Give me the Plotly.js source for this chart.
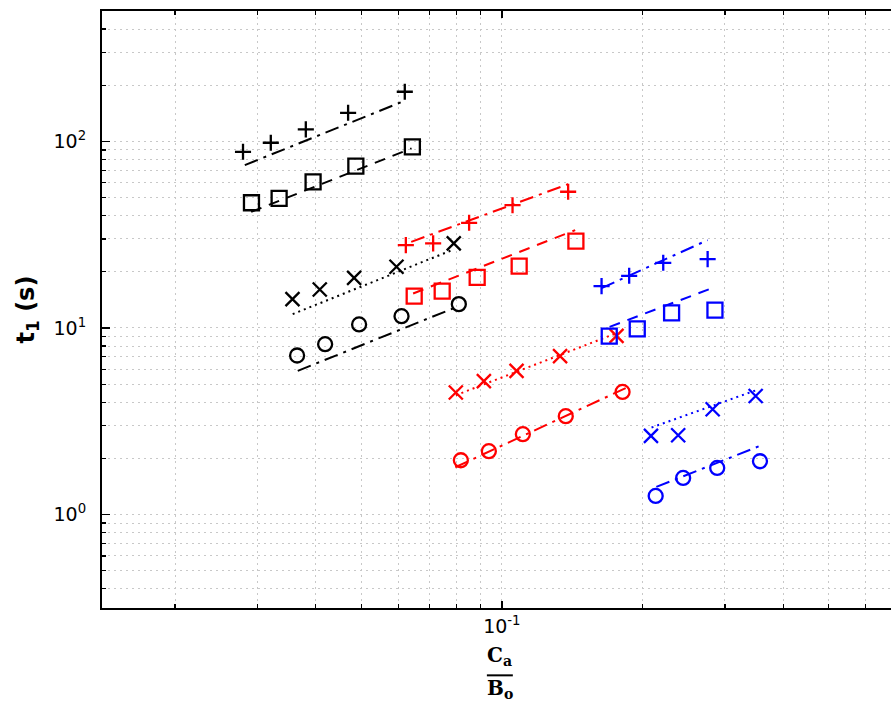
<!DOCTYPE html>
<html>
<head>
<meta charset="utf-8">
<script src="https://cdn.plot.ly/plotly-3.0.1.min.js"></script>
<style>html,body{margin:0;padding:0;overflow:hidden;background:#fff}</style>
</head>
<body>
<div id="chart" style="width:891px;height:701px"></div>
<script>
// ---- data ----
const xBlackPlus = [0.02795, 0.03205, 0.03808, 0.04690, 0.06200];
const yBlackPlus = [87.9, 98.3, 116.0, 142.3, 184.5];
const fitXBlackPlus = [0.0282, 0.0620];
const fitYBlackPlus = [74.6, 165.1];

const xBlackSquare = [0.02914, 0.03339, 0.03947, 0.04872, 0.06436];
const yBlackSquare = [46.9, 49.5, 60.7, 73.7, 93.5];
const fitXBlackSquare = [0.0291, 0.0641];
const fitYBlackSquare = [41.9, 91.7];

const xBlackX = [0.03566, 0.04079, 0.04831, 0.05952, 0.07891];
const yBlackX = [14.27, 16.08, 18.56, 21.27, 28.39];
const fitXBlackX = [0.0357, 0.0789];
const fitYBlackX = [11.86, 26.36];

const xBlackCircle = [0.03648, 0.04188, 0.04951, 0.06101, 0.08091];
const yBlackCircle = [7.12, 8.19, 10.44, 11.57, 13.42];
const fitXBlackCircle = [0.0366, 0.0809];
const fitYBlackCircle = [5.89, 13.09];

const xRedPlus = [0.06232, 0.07129, 0.08511, 0.1054, 0.1386];
const yRedPlus = [27.8, 28.39, 36.6, 45.5, 53.7];
const fitXRedPlus = [0.0640, 0.1386];
const fitYRedPlus = [28.95, 59.0];

const xRedSquare = [0.06494, 0.07454, 0.08856, 0.1089, 0.1440];
const yRedSquare = [14.81, 15.75, 18.66, 21.45, 29.2];
const fitXRedSquare = [0.0646, 0.1435];
const fitYRedSquare = [15.31, 33.45];

const xRedX = [0.07971, 0.09152, 0.1075, 0.1332, 0.1759];
const yRedX = [4.51, 5.19, 5.89, 7.06, 9.07];
const fitXRedX = [0.0797, 0.1760];
const fitYRedX = [4.36, 9.38];

const xRedCircle = [0.08172, 0.09380, 0.1109, 0.1370, 0.1812];
const yRedCircle = [1.955, 2.185, 2.696, 3.366, 4.54];
const fitXRedCircle = [0.0795, 0.1840];
const fitYRedCircle = [1.793, 4.76];

const xBluePlus = [0.1634, 0.1872, 0.2214, 0.2755];
const yBluePlus = [16.76, 19.03, 22.35, 23.38];
const fitXBluePlus = [0.1634, 0.2755];
const fitYBluePlus = [16.35, 29.57];

const xBlueSquare = [0.1697, 0.1948, 0.2307, 0.2856];
const yBlueSquare = [9.04, 9.89, 12.05, 12.46];
const fitXBlueSquare = [0.1700, 0.2840];
const fitYBlueSquare = [10.14, 16.49];

const xBlueX = [0.2084, 0.2383, 0.2824, 0.3490];
const yBlueX = [2.639, 2.662, 3.67, 4.32];
const fitXBlueX = [0.2090, 0.3500];
const fitYBlueX = [2.928, 4.64];

const xBlueCircle = [0.2133, 0.2442, 0.2888, 0.3565];
const yBlueCircle = [1.258, 1.571, 1.778, 1.931];
const fitXBlueCircle = [0.2140, 0.3550];
const fitYBlueCircle = [1.406, 2.324];

const xMajorTicks = [0.1];
const xMajorLabels = ['10<sup>-1</sup>'];
const xMinorTicks = [0.02, 0.03, 0.04, 0.05, 0.06, 0.07, 0.08, 0.09, 0.2, 0.3, 0.4, 0.5, 0.6];
const yMajorTicks = [1, 10, 100];
const yMajorLabels = ['10<sup>0</sup>', '10<sup>1</sup>', '10<sup>2</sup>'];
const yMinorTicks = [0.4, 0.5, 0.6, 0.7, 0.8, 0.9, 2, 3, 4, 5, 6, 7, 8, 9,
                     20, 30, 40, 50, 60, 70, 80, 90, 200, 300, 400];

// ---- styles ----
const DASHDOT = '14px,6px,3px,6px';
const DASH = '11px,8px';
const DOT = '2px,4px';

function markers(x, y, color, symbol, size) {
  return {x: x, y: y, type: 'scatter', mode: 'markers', showlegend: false,
    hoverinfo: 'skip',
    marker: {symbol: symbol, size: size, color: color,
             line: {color: color, width: 2.3}}};
}
function fit(x, y, color, dash) {
  return {x: x, y: y, type: 'scatter', mode: 'lines', showlegend: false,
    hoverinfo: 'skip', line: {color: color, width: 2, dash: dash}};
}
const K = '#000000', R = '#ff0000', B = '#0000ff';
const sPlus = 'cross-thin', sX = 'x-thin', sSq = 'square-open', sCi = 'circle-open';
const zPlus = 11.5, zX = 14, zSq = 15, zCi = 14;

const traces = [
  fit(fitXBlackPlus, fitYBlackPlus, K, DASHDOT),
  fit(fitXBlackSquare, fitYBlackSquare, K, DASH),
  fit(fitXBlackX, fitYBlackX, K, DOT),
  fit(fitXBlackCircle, fitYBlackCircle, K, DASHDOT),
  fit(fitXRedPlus, fitYRedPlus, R, DASHDOT),
  fit(fitXRedSquare, fitYRedSquare, R, DASH),
  fit(fitXRedX, fitYRedX, R, DOT),
  fit(fitXRedCircle, fitYRedCircle, R, DASHDOT),
  fit(fitXBluePlus, fitYBluePlus, B, DASHDOT),
  fit(fitXBlueSquare, fitYBlueSquare, B, DASH),
  fit(fitXBlueX, fitYBlueX, B, DOT),
  fit(fitXBlueCircle, fitYBlueCircle, B, DASHDOT),
  markers(xBlackPlus, yBlackPlus, K, sPlus, zPlus),
  markers(xBlackSquare, yBlackSquare, K, sSq, zSq),
  markers(xBlackX, yBlackX, K, sX, zX),
  markers(xBlackCircle, yBlackCircle, K, sCi, zCi),
  markers(xRedPlus, yRedPlus, R, sPlus, zPlus),
  markers(xRedSquare, yRedSquare, R, sSq, zSq),
  markers(xRedX, yRedX, R, sX, zX),
  markers(xRedCircle, yRedCircle, R, sCi, zCi),
  markers(xBluePlus, yBluePlus, B, sPlus, zPlus),
  markers(xBlueSquare, yBlueSquare, B, sSq, zSq),
  markers(xBlueX, yBlueX, B, sX, zX),
  markers(xBlueCircle, yBlueCircle, B, sCi, zCi)
];

const gridStyle = {gridcolor: '#c8c8c8', gridwidth: 1, griddash: DOT};

const layout = {
  width: 891, height: 701,
  margin: {l: 102, r: 0, t: 11, b: 93, pad: 0},
  paper_bgcolor: '#ffffff', plot_bgcolor: '#ffffff',
  font: {family: 'DejaVu Sans, sans-serif', color: '#000', size: 19},
  showlegend: false,
  xaxis: Object.assign({
    type: 'log', range: [-1.8552, -0.1677],
    tickmode: 'array', tickvals: xMajorTicks, ticktext: xMajorLabels,
    ticks: 'inside', ticklen: 7, tickwidth: 1.5, tickcolor: '#000',
    showline: true, linecolor: '#000', linewidth: 2, mirror: 'ticks',
    showgrid: true, zeroline: false,
    tickfont: {family: 'DejaVu Sans, sans-serif', size: 19, color: '#000'},
    minor: Object.assign({tickmode: 'array', tickvals: xMinorTicks, ticks: 'inside',
      ticklen: 4, tickwidth: 1.2, tickcolor: '#000', showgrid: true}, gridStyle)
  }, gridStyle),
  yaxis: Object.assign({
    type: 'log', range: [-0.5008, 2.6987],
    tickmode: 'array', tickvals: yMajorTicks, ticktext: yMajorLabels,
    ticks: 'inside', ticklen: 8, tickwidth: 1.5, tickcolor: '#000',
    showline: true, linecolor: '#000', linewidth: 2, mirror: false,
    showgrid: true, zeroline: false, ticklabelstandoff: 10,
    tickfont: {family: 'DejaVu Sans, sans-serif', size: 19, color: '#000'},
    title: {text: '<b>t<sub>1</sub> (s)</b>', standoff: 12,
            font: {family: 'DejaVu Sans, sans-serif', size: 24, color: '#000'}},
    minor: Object.assign({tickmode: 'array', tickvals: yMinorTicks, ticks: 'inside',
      ticklen: 4, tickwidth: 1.2, tickcolor: '#000', showgrid: true}, gridStyle)
  }, gridStyle),
  annotations: [
    {xref: 'paper', yref: 'paper', x: 0.5042, y: 0, yanchor: 'middle', xanchor: 'center',
     yshift: -48, showarrow: false, text: '<b>C<sub>a</sub></b>',
     font: {family: 'DejaVu Serif, serif', size: 20, color: '#000'}},
    {xref: 'paper', yref: 'paper', x: 0.5042, y: 0, yanchor: 'middle', xanchor: 'center',
     yshift: -81, showarrow: false, text: '<b>B<sub>o</sub></b>',
     font: {family: 'DejaVu Serif, serif', size: 20, color: '#000'}}
  ],
  shapes: [
    {type: 'line', xref: 'paper', yref: 'paper', x0: 0.4878, x1: 0.5207,
     y0: -0.1128, y1: -0.1128, line: {color: '#000', width: 2}}
  ]
};

Plotly.newPlot('chart', traces, layout, {displayModeBar: false, staticPlot: true});
</script>
</body>
</html>
